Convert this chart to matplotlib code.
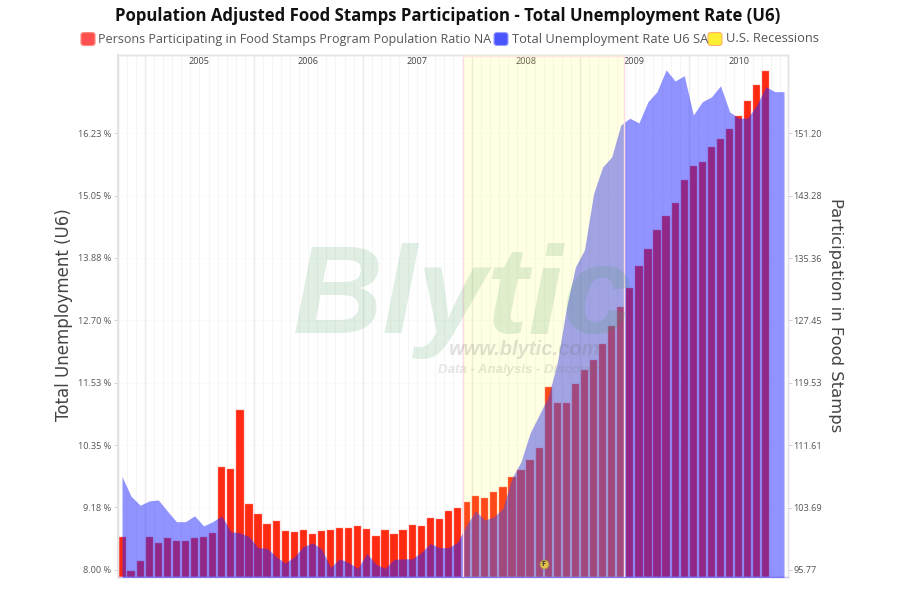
import numpy as np
import matplotlib
matplotlib.use("Agg")
import matplotlib.pyplot as plt
from matplotlib.patches import FancyBboxPatch

participation = [100.0, 95.7, 96.9, 100.0, 99.2, 99.8, 99.4, 99.45, 99.8, 99.9, 100.5, 108.9,
                 108.6, 116.1, 104.2, 102.9, 101.6, 102.0, 100.7, 100.6, 100.8, 100.3, 100.7, 100.85,
                 101.1, 101.05, 101.3, 101.0, 100.1, 100.85, 100.4, 100.8, 101.45, 101.35, 102.4, 102.3,
                 103.2, 103.65, 104.4, 105.1, 104.9, 105.7, 106.35, 107.6, 108.5, 109.7, 111.2, 119.0,
                 116.9, 117.0, 119.4, 121.2, 122.4, 124.5, 126.7, 129.1, 131.6, 134.3, 136.5, 138.9,
                 140.65, 142.4, 145.3, 147.0, 147.5, 149.4, 150.5, 151.7, 153.4, 155.3, 157.3, 159.1]
unemployment = [9.76, 9.39, 9.22, 9.30, 9.32, 9.11, 8.91, 8.91, 9.02, 8.83, 8.91, 9.02,
                8.72, 8.70, 8.63, 8.42, 8.41, 8.25, 8.13, 8.25, 8.44, 8.51, 8.40, 8.05,
                8.21, 8.14, 8.03, 8.31, 8.11, 8.03, 8.20, 8.21, 8.21, 8.33, 8.50, 8.42,
                8.42, 8.52, 8.85, 9.11, 8.94, 9.00, 9.16, 9.73, 10.04, 10.58, 10.92, 11.26,
                11.90, 12.93, 13.71, 14.03, 15.09, 15.59, 15.78, 16.38, 16.51, 16.42, 16.82, 17.01,
                17.42, 17.21, 17.31, 16.57, 16.82, 16.91, 17.12, 16.63, 16.51, 16.51, 16.76, 17.10,
                17.01, 17.01]
left_ticks = [8.00, 9.18, 10.35, 11.53, 12.70, 13.88, 15.05, 16.23]
right_ticks = [95.77, 103.69, 111.61, 119.53, 127.45, 135.36, 143.28, 151.20]
years = ["2005", "2006", "2007", "2008", "2009", "2010"]
year_starts = [2.54, 14.54, 26.54, 38.54, 50.54, 62.54]
year_label_pos = [8.5, 20.5, 32.5, 44.5, 56.5, 68]
recession = (37.6, 55.35)
flag_x, flag_y = 46.5, 8.11

plt.rcParams['font.family'] = ['Open Sans', 'DejaVu Sans']
fig = plt.figure(figsize=(9, 6), dpi=100, facecolor='white')
rect = [118/900, 1-577/600, 670/900, 522/600]
axr = fig.add_axes(rect)
axl = axr.twinx()
axr.set_xlim(-0.44, 73.44)
axr.set_ylim(94.88, 161.13)
axl.set_ylim(7.868, 17.70)

# Grid
for m in np.arange(-0.46, 74, 1):
    axr.axvline(m, color='#f6f6f6', lw=0.8, zorder=0)
for s in year_starts:
    axr.axvline(s, color='#ebebeb', lw=1.0, zorder=0.5)
for t in right_ticks:
    axr.axhline(t, color='#fafafa', lw=0.7, zorder=0)

# Marks
axr.bar(np.arange(len(participation)), participation, width=0.8, bottom=0,
        color='#ff2a12', edgecolor='#ff8a80', linewidth=0.3, zorder=2)
axl.fill_between(np.arange(len(unemployment)), unemployment, 7.0,
                 color='#2428ff', alpha=0.5, linewidth=0, zorder=3)
axl.axvspan(recession[0], recession[1], facecolor='#ffff44', alpha=0.15, linewidth=0, zorder=4)
axl.axvline(recession[0], color='#ffdce2', lw=1.0, zorder=4)
axl.axvline(recession[1], color='#ffdce2', lw=1.0, zorder=4)
axl.plot(recession, [17.68, 17.68], color='#ffe4e8', lw=1.0, zorder=4)

# Watermark
axl.text(293, 600-333, "Blytic", transform=None, fontsize=90, style='italic', weight='bold',
         family='Liberation Sans', color='#3f9a5a', alpha=0.16, ha='left', va='baseline', zorder=5, clip_on=True)
axl.text(448, 600-355, "www.blytic.com", transform=None, fontsize=14.5, style='italic', weight='bold',
         family='Liberation Sans', color='#777777', alpha=0.22, ha='left', va='baseline', zorder=5)
axl.text(438, 600-373, "Data - Analysis - Discover", transform=None, fontsize=9.5, style='italic', weight='bold',
         family='Liberation Sans', color='#777777', alpha=0.18, ha='left', va='baseline', zorder=5)

# Flag
axl.scatter([flag_x], [flag_y], s=42, color='#e3c04a', edgecolor='#9a8a50', linewidth=0.6, zorder=6)
axl.text(flag_x, flag_y, "F", fontsize=5, ha='center', va='center', color='#333333', zorder=7, weight='bold')

# Year labels
for lab, pos in zip(years, year_label_pos):
    axr.text(pos, 160.3, lab, fontsize=6.6, color='#444444', ha='center', va='center', zorder=8)

# Axes and ticks
axr.set_xticks([])
axr.yaxis.tick_right()
axr.set_yticks(right_ticks)
axr.set_yticklabels([f"{t:.2f}" for t in right_ticks], fontsize=6.6, color='#555555')
axl.yaxis.tick_left()
axl.set_yticks(left_ticks)
axl.set_yticklabels([f"{t:.2f} %" for t in left_ticks], fontsize=6.6, color='#555555')
axr.tick_params(axis='y', length=3, width=0.6, color='#c8c8c8', pad=1)
axl.tick_params(axis='y', length=3, width=0.6, color='#c8c8c8', pad=2)
for a in (axr, axl):
    for side, sp in a.spines.items():
        sp.set_color('#e4e4e4')
        sp.set_linewidth(1.0)
    a.spines['bottom'].set_color('#d8c8ee')
axl.spines['left'].set_linewidth(1.6)

fig.text(64/900, 1-315/600, "Total Unemployment (U6)", rotation=90, fontsize=12, color='#444444',
         ha='center', va='center', family='DejaVu Sans')
fig.text(836/900, 1-315/600, "Participation in Food Stamps", rotation=270, fontsize=11.8, color='#444444',
         ha='center', va='center', family='DejaVu Sans')

# Title and legend
fig.text(447.5/900, 1-16/600, "Population Adjusted Food Stamps Participation - Total Unemployment Rate (U6)",
         fontsize=12.05, weight='bold', color='#111111', ha='center', va='center')
legend_items = [("Persons Participating in Food Stamps Program Population Ratio NA", '#ff5050', '#ff8a80', 81, 9.0),
                ("Total Unemployment Rate U6 SA", '#4a55ff', '#9aa0ff', 494, 9.3),
                ("U.S. Recessions", '#ffee33', '#ffb070', 708, 9.3)]
for lab, fc, ec, xp, fs in legend_items:
    fig.patches.append(FancyBboxPatch((xp/900, 1-45.5/600), 14/900, 13/600, transform=fig.transFigure,
                                      boxstyle="round,pad=0,rounding_size=0.004", facecolor=fc, edgecolor=ec,
                                      linewidth=0.8, figure=fig))
    fig.text((xp+17.5)/900, 1-39/600, lab, fontsize=fs, color='#555555', ha='left', va='center')

fig.savefig("out.png", dpi=100)
